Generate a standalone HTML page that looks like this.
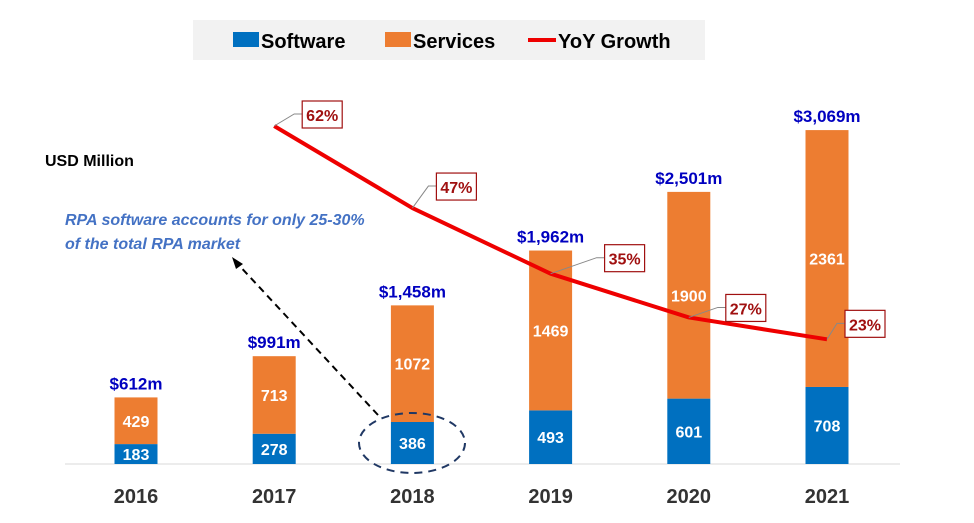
<!DOCTYPE html>
<html><head><meta charset="utf-8"><style>
body{margin:0;background:#fff;font-family:"Liberation Sans",sans-serif}
svg text{font-family:"Liberation Sans",sans-serif;font-weight:bold}
</style></head><body>
<svg id="c" width="974" height="518">
<rect x="193" y="20" width="512" height="40" fill="#f2f2f2"/>
<g><rect x="233" y="32" width="26" height="15" fill="#0070c0"/><text x="261" y="48" font-size="20">Software</text></g>
<g><rect x="385" y="32" width="26" height="15" fill="#ed7d31"/><text x="413" y="48" font-size="20">Services</text></g>
<g><line x1="528" y1="40" x2="556" y2="40" stroke="#e00" stroke-width="4"/><text x="558" y="48" font-size="20">YoY Growth</text></g>
<text x="45" y="166" font-size="16">USD Million</text>
<text x="65" y="225" font-size="16" font-style="italic" fill="#4472c4">RPA software accounts for only 25-30%</text>
<text x="65" y="249" font-size="16" font-style="italic" fill="#4472c4">of the total RPA market</text>
<line x1="65" y1="464" x2="900" y2="464" stroke="#d9d9d9"/>
<g id="bars"></g><g id="line"></g>
<line x1="378" y1="415" x2="236" y2="262" stroke="#000" stroke-width="2" stroke-dasharray="7,5"/>
<polygon points="232,257 243,264 236,269" fill="#000"/>
<ellipse cx="412" cy="443" rx="53" ry="30" fill="none" stroke="#203864" stroke-width="2" stroke-dasharray="8,6"/>
</svg>
<script>
const years=["2016","2017","2018","2019","2020","2021"];
const software=[183,278,386,493,601,708];
const services=[429,713,1072,1469,1900,2361];
const totals=["$612m","$991m","$1,458m","$1,962m","$2,501m","$3,069m"];
const growth=[null,62,47,35,27,23];
const growthLabels=[null,"62%","47%","35%","27%","23%"];
const NS="http://www.w3.org/2000/svg";
const boxOff=[null,[28,-25],[24,-35],[54,-29],[37,-23],[18,-29]];
const x=i=>136+i*138.2, yv=v=>464-v*0.1088, yg=g=>126+(62-g)*5.47;
function mk(t,a,p){const e=document.createElementNS(NS,t);for(const k in a)e.setAttribute(k,a[k]);p.appendChild(e);return e;}
const B=document.getElementById('bars'),L=document.getElementById('line');
years.forEach((yr,i)=>{
 const cx=x(i),s=software[i],v=services[i];
 const r1=mk('rect',{x:cx-21.5,y:yv(s),width:43,height:464-yv(s),fill:'#0070c0'},B);
 
 
 const r2=mk('rect',{x:cx-21.5,y:yv(s+v),width:43,height:yv(s)-yv(s+v),fill:'#ed7d31'},B);
 
 
 const t1=mk('text',{x:cx,y:(yv(s)+464)/2+6,'text-anchor':'middle','font-size':16,fill:'#fff'},B);t1.textContent=s;
 
 
 const t2=mk('text',{x:cx,y:(yv(s)+yv(s+v))/2+6,'text-anchor':'middle','font-size':16,fill:'#fff'},B);t2.textContent=v;
 
 
 const t3=mk('text',{x:cx,y:yv(s+v)-8,'text-anchor':'middle','font-size':17,fill:'#0000c0'},B);t3.textContent=totals[i];
 
 
 const t4=mk('text',{x:cx,y:503,'text-anchor':'middle','font-size':20,fill:'#333'},B);t4.textContent=yr;
 
 
});
const pts=[];growth.forEach((g,i)=>{if(g!==null)pts.push([x(i),yg(g),i]);});
const pl=mk('polyline',{points:pts.map(p=>p[0]+','+p[1]).join(' '),fill:'none',stroke:'#e00','stroke-width':4,'stroke-linejoin':'round'},L);


pts.forEach(p=>{
 const o=boxOff[p[2]];const bx=p[0]+o[0],by=p[1]+o[1];
 mk('polyline',{points:`${p[0]},${p[1]} ${bx-8},${by+13} ${bx},${by+13}`,fill:'none',stroke:'#888','stroke-width':1},L);
 const r=mk('rect',{x:bx,y:by,width:40,height:27,fill:'#fff',stroke:'#a01010','stroke-width':1.2},L);
 
 
 const t=mk('text',{x:bx+20,y:by+20,'text-anchor':'middle','font-size':16,fill:'#a01010'},L);t.textContent=growthLabels[p[2]];
 
 
});
</script>
</body></html>
